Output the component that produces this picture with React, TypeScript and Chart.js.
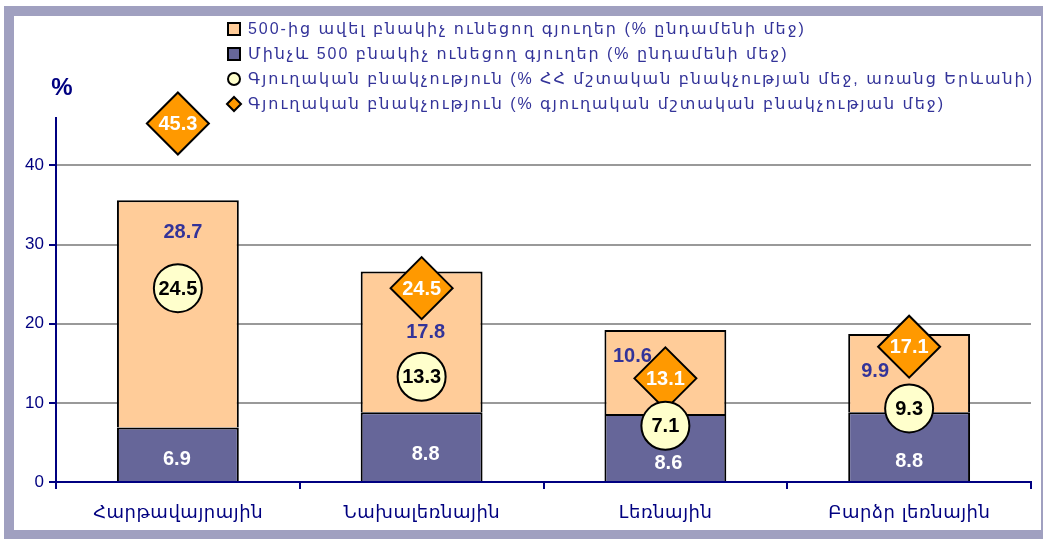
import React, { useEffect, useRef } from 'react';
import { Chart, registerables } from 'chart.js';

Chart.register(...registerables);

const categories = ['Հարթավայրային', 'Նախալեռնային', 'Լեռնային', 'Բարձր լեռնային'];
const largeVillages = [28.7, 17.8, 10.6, 9.9];
const smallVillages = [6.9, 8.8, 8.6, 8.8];
const ruralShareNational = [24.5, 13.3, 7.1, 9.3];
const ruralShareRural = [45.3, 24.5, 13.1, 17.1];
const yTickValues = [0, 10, 20, 30, 40];
const seriesLabels = [
  '500-ից ավել բնակիչ ունեցող գյուղեր (% ընդամենի մեջ)',
  'Մինչև 500 բնակիչ ունեցող գյուղեր (% ընդամենի մեջ)',
  'Գյուղական բնակչություն (% ՀՀ մշտական բնակչության մեջ, առանց Երևանի)',
  'Գյուղական բնակչություն (% գյուղական մշտական բնակչության մեջ)',
];

// label placement tweaks (pixels), kept apart from the data
const peachLabelDx = [5, 4, -33, -34];
const peachLabelDy = [32, 61, 26, 37];
const darkLabelDx = [-1, 4, 3, 0];
const darkLabelDy = [5, 8, 16, 15];

const COLORS = {
  peach: '#FFCC99',
  dark: '#666699',
  circle: '#FFFFCC',
  diamond: '#FF9900',
  navy: '#000080',
  legendText: '#333399',
  grid: '#999999',
  frame: '#A0A0C0',
};

const LATIN = '"Liberation Sans", Arial';
const ARM = `${LATIN}, "DejaVu Sans", sans-serif`;
const ARM_ONLY = '"DejaVu Sans", sans-serif';

const fitSpacing = (ctx: CanvasRenderingContext2D, text: string, target: number) => {
  (ctx as any).letterSpacing = '0px';
  const w = ctx.measureText(text).width;
  const n = Array.from(text).length;
  return Math.max(0, (target - w) / n);
};

const legendPlugin = {
  id: 'customLegend',
  afterDraw(chart: any) {
    const ctx = chart.ctx as CanvasRenderingContext2D;
    ctx.save();
    const x0 = 227;
    const rows = [29, 54, 79, 104];
    ctx.font = `16px ${ARM}`;
    const ls = fitSpacing(ctx, seriesLabels[2], 786);
    ctx.textBaseline = 'middle';
    ctx.textAlign = 'left';
    ctx.lineWidth = 2;
    ctx.strokeStyle = '#000';
    const fills = [COLORS.peach, COLORS.dark, COLORS.circle, COLORS.diamond];
    rows.forEach((y, i) => {
      ctx.fillStyle = fills[i];
      ctx.beginPath();
      if (i < 2) {
        ctx.rect(x0 + 1, y - 6, 12, 12);
      } else if (i === 2) {
        ctx.arc(x0 + 7, y, 6, 0, Math.PI * 2);
      } else {
        ctx.moveTo(x0, y);
        ctx.lineTo(x0 + 7, y - 7);
        ctx.lineTo(x0 + 14, y);
        ctx.lineTo(x0 + 7, y + 7);
        ctx.closePath();
      }
      ctx.fill();
      ctx.stroke();
      ctx.fillStyle = COLORS.legendText;
      (ctx as any).letterSpacing = `${ls}px`;
      ctx.fillText(seriesLabels[i], x0 + 21, y + 1);
      (ctx as any).letterSpacing = '0px';
    });

    // category labels under the x axis, placed by the category scale
    const xs = chart.scales.x;
    ctx.font = `18px ${ARM_ONLY}`;
    const lsx = fitSpacing(ctx, categories[0], 170);
    (ctx as any).letterSpacing = `${lsx}px`;
    ctx.textAlign = 'center';
    ctx.fillStyle = COLORS.navy;
    chart.data.labels.forEach((lab: string, i: number) => {
      ctx.fillText(lab, xs.getPixelForValue(i) + lsx / 2, 513);
    });
    (ctx as any).letterSpacing = '0px';

    // axis unit
    ctx.fillStyle = COLORS.navy;
    ctx.font = `bold 24px ${LATIN}`;
    ctx.textAlign = 'center';
    ctx.fillText('%', 62, 88);
    ctx.restore();
  },
};

const valueLabelPlugin = {
  id: 'valueLabels',
  afterDatasetsDraw(chart: any) {
    const ctx = chart.ctx as CanvasRenderingContext2D;
    ctx.save();
    ctx.textAlign = 'center';
    ctx.textBaseline = 'middle';
    ctx.font = `bold 20px ${LATIN}`;
    const metas = [0, 1, 2, 3].map((d) => chart.getDatasetMeta(d));
    metas[1].data.forEach((el: any, i: number) => {
      ctx.fillStyle = '#FFFFFF';
      ctx.fillText(String(smallVillages[i]), el.x + darkLabelDx[i], (el.y + el.base) / 2 + darkLabelDy[i]);
    });
    metas[0].data.forEach((el: any, i: number) => {
      ctx.fillStyle = '#333399';
      ctx.fillText(String(largeVillages[i]), el.x + peachLabelDx[i], el.y + peachLabelDy[i]);
    });
    metas[3].data.forEach((el: any, i: number) => {
      ctx.fillStyle = '#FFFFFF';
      ctx.fillText(String(ruralShareRural[i]), el.x, el.y + 1);
    });
    metas[2].data.forEach((el: any, i: number) => {
      ctx.fillStyle = '#000000';
      ctx.fillText(String(ruralShareNational[i]), el.x, el.y + 1);
    });
    ctx.restore();
  },
};

export default function App() {
  const canvasRef = useRef<HTMLCanvasElement | null>(null);

  useEffect(() => {
    if (!canvasRef.current) return;
    const chart = new Chart(canvasRef.current, {
      data: {
        labels: categories,
        datasets: [
          {
            type: 'bar',
            label: seriesLabels[0],
            data: largeVillages,
            backgroundColor: COLORS.peach,
            borderColor: '#000000',
            borderWidth: 2,
            stack: 'bars',
            order: 3,
            barPercentage: 0.5,
            categoryPercentage: 1,
          } as any,
          {
            type: 'bar',
            label: seriesLabels[1],
            data: smallVillages,
            backgroundColor: COLORS.dark,
            borderColor: '#000000',
            borderWidth: 2,
            stack: 'bars',
            order: 2,
            barPercentage: 0.5,
            categoryPercentage: 1,
          } as any,
          {
            type: 'line',
            label: seriesLabels[2],
            data: ruralShareNational,
            showLine: false,
            borderWidth: 0,
            pointStyle: 'circle',
            pointRadius: 24,
            pointBackgroundColor: COLORS.circle,
            pointBorderColor: '#000000',
            pointBorderWidth: 2,
            stack: 'circles',
            order: 0,
            clip: false,
          } as any,
          {
            type: 'line',
            label: seriesLabels[3],
            data: ruralShareRural,
            showLine: false,
            borderWidth: 0,
            pointStyle: 'rectRot',
            pointRadius: 31,
            pointBackgroundColor: COLORS.diamond,
            pointBorderColor: '#000000',
            pointBorderWidth: 2,
            stack: 'diamonds',
            order: 1,
            clip: false,
          } as any,
        ],
      },
      options: {
        responsive: false,
        animation: false,
        devicePixelRatio: 1,
        layout: { autoPadding: false, padding: { top: 118, right: 12, left: 0, bottom: 0 } },
        plugins: {
          legend: { display: false },
          tooltip: { enabled: false },
          title: { display: false },
        },
        scales: {
          x: {
            stacked: true,
            afterFit: (s: any) => {
              s.height = 57;
              s.paddingLeft = 0;
              s.paddingRight = 0;
            },
            grid: {
              offset: true,
              drawOnChartArea: false,
              drawTicks: true,
              tickLength: 7,
              tickColor: COLORS.navy,
              lineWidth: 2,
            },
            border: { color: COLORS.navy, width: 2 },
            ticks: { display: false },
          },
          y: {
            stacked: true,
            min: 0,
            max: 46,
            afterFit: (s: any) => {
              s.width = 56;
            },
            afterBuildTicks: (s: any) => {
              s.ticks = yTickValues.map((v) => ({ value: v }));
            },
            grid: {
              color: (c: any) => (c.tick && c.tick.value === 0 ? 'rgba(0,0,0,0)' : COLORS.grid),
              lineWidth: 2,
              drawTicks: true,
              tickLength: 7,
              tickColor: COLORS.navy,
            },
            border: { color: COLORS.navy, width: 2 },
            ticks: {
              color: COLORS.navy,
              font: { size: 17, family: LATIN },
              padding: 5,
            },
          },
        },
      },
      plugins: [legendPlugin, valueLabelPlugin],
    });
    return () => chart.destroy();
  }, []);

  return (
    <div
      style={{
        position: 'absolute',
        left: 0,
        top: 0,
        width: 1043,
        height: 539,
        overflow: 'hidden',
        background: '#FFFFFF',
      }}
    >
      <div
        style={{
          position: 'absolute',
          left: 4,
          top: 6,
          width: 1047,
          height: 534,
          border: `10px solid ${COLORS.frame}`,
          boxSizing: 'border-box',
        }}
      />
      <canvas
        ref={canvasRef}
        width={1043}
        height={539}
        style={{ position: 'absolute', left: 0, top: 0, width: 1043, height: 539 }}
      />
    </div>
  );
}
